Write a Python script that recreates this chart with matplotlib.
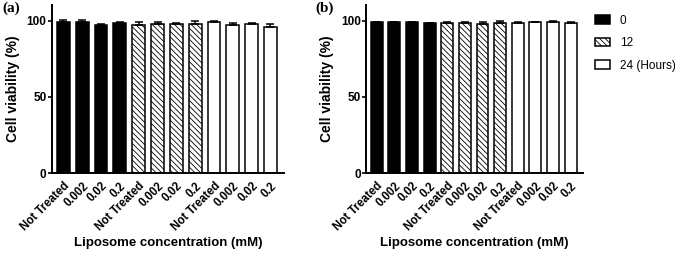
import numpy as np
import matplotlib
matplotlib.use("Agg")
import matplotlib.pyplot as plt
from matplotlib.patches import Patch

plt.rcParams['font.family'] = ['Liberation Sans', 'DejaVu Sans']
plt.rcParams['hatch.linewidth'] = 0.6

labels = ['Not Treated', '0.002', '0.02', '0.2'] * 3
groups = ['0', '12', '24 (Hours)']

vals_a = [99.0, 99.0, 97.5, 98.5, 97.5, 98.0, 98.0, 98.0, 99.0, 97.0, 98.0, 96.0]
err_a = [1.5, 1.5, 0.3, 0.5, 1.5, 1.2, 0.5, 2.0, 1.0, 1.5, 0.8, 2.0]
vals_b = [99.0, 99.0, 99.0, 98.5, 98.5, 98.5, 98.0, 98.5, 98.5, 99.0, 99.5, 98.5]
err_b = [0.3, 0.3, 0.3, 0.3, 0.5, 0.5, 1.2, 1.5, 0.7, 0.5, 0.5, 0.5]

fig = plt.figure(figsize=(6.77, 2.59), dpi=100)
ax1 = fig.add_axes([0.077, 0.332, 0.342, 0.649])
ax2 = fig.add_axes([0.541, 0.332, 0.320, 0.649])

styles = [dict(color='black', hatch=None),
          dict(color='white', hatch='\\\\\\\\\\\\'),
          dict(color='white', hatch=None)]

def draw(ax, vals, errs):
    x = np.arange(len(vals))
    for i in range(len(vals)):
        st = styles[i // 4]
        ax.bar(x[i], vals[i], width=0.68, color=st['color'], edgecolor='black',
               hatch=st['hatch'], linewidth=1.1, zorder=2)
        ax.errorbar(x[i], vals[i], yerr=[[0], [errs[i]]], fmt='none',
                    ecolor='black', elinewidth=1.1, capsize=3, capthick=1.1, zorder=3)
    ax.set_xlim(-0.6, 11.7)
    ax.set_ylim(0, 110.5)
    ax.set_yticks([0, 50, 100])
    ax.set_xticks(x)
    ax.set_xticklabels(labels, rotation=45, ha='right', rotation_mode='anchor',
                       fontsize=8.3, fontweight='bold')
    for t in ax.get_yticklabels():
        t.set_fontweight('bold')
        t.set_fontsize(8.5)
    ax.tick_params(axis='x', length=0, pad=5)
    ax.tick_params(axis='y', length=3, width=1.2, pad=1)
    ax.spines['top'].set_visible(False)
    ax.spines['right'].set_visible(False)
    ax.spines['left'].set_linewidth(1.4)
    ax.spines['bottom'].set_linewidth(1.4)
    ax.set_ylabel('Cell viability (%)', fontsize=10, fontweight='bold', labelpad=5)
    ax.set_xlabel('Liposome concentration (mM)', fontsize=9.5, fontweight='bold')
    ax.xaxis.set_label_coords(0.5, -0.38)

draw(ax1, vals_a, err_a)
draw(ax2, vals_b, err_b)

fig.text(0.003, 0.955, '(a)', fontsize=11, fontweight='bold', family='Liberation Serif')
fig.text(0.466, 0.955, '(b)', fontsize=11, fontweight='bold', family='Liberation Serif')

handles = [Patch(facecolor=styles[k]['color'], edgecolor='black',
                 hatch=styles[k]['hatch'], linewidth=1.1) for k in range(3)]
fig.legend(handles, groups, loc='upper left', bbox_to_anchor=(0.872, 0.962),
           frameon=False, fontsize=8.5, handlelength=1.3, handleheight=0.75,
           labelspacing=0.9, handletextpad=0.8, borderaxespad=0.2, borderpad=0.2)

fig.savefig('out.png', dpi=100)
